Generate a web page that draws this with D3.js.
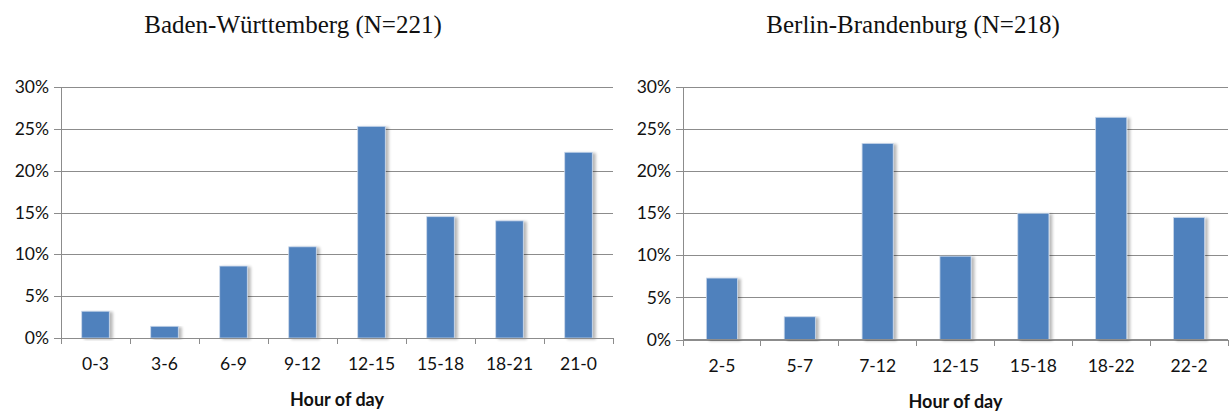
<!DOCTYPE html>
<html>
<head>
<meta charset="utf-8">
<script src="https://cdn.jsdelivr.net/npm/d3@7/dist/d3.min.js"></script>
<style>
  html, body { margin: 0; padding: 0; background: #fff; }
  svg { display: block; }
</style>
</head>
<body>
<svg id="chart" width="1229" height="411"></svg>
<script>
// Share of incidents by time of day, per region (percent)
const bwTitle = "Baden-Württemberg (N=221)";
const bwCategories = ["0-3", "3-6", "6-9", "9-12", "12-15", "15-18", "18-21", "21-0"];
const bwValues = [3.2, 1.4, 8.6, 10.9, 25.3, 14.5, 14.0, 22.2];

const bbTitle = "Berlin-Brandenburg (N=218)";
const bbCategories = ["2-5", "5-7", "7-12", "12-15", "15-18", "18-22", "22-2"];
const bbValues = [7.3, 2.7, 23.3, 9.9, 15.0, 26.4, 14.5];

const yTicks = [0, 5, 10, 15, 20, 25, 30];
const xAxisTitle = "Hour of day";

const svg = d3.select("#chart");
const sansFont = "Lato, 'Open Sans', sans-serif";

// soft drop shadow to the right of each bar
const defs = svg.append("defs");
const f = defs.append("filter").attr("id", "barShadow")
  .attr("x", "-20%").attr("y", "-5%").attr("width", "160%").attr("height", "115%");
f.append("feGaussianBlur").attr("in", "SourceAlpha").attr("stdDeviation", 1.6).attr("result", "b");
f.append("feOffset").attr("in", "b").attr("dx", 2.5).attr("dy", 1).attr("result", "o");
f.append("feComponentTransfer").attr("in", "o").attr("result", "s")
  .append("feFuncA").attr("type", "linear").attr("slope", 0.28);
const m = f.append("feMerge");
m.append("feMergeNode").attr("in", "s");
m.append("feMergeNode").attr("in", "SourceGraphic");

function drawPanel(opts) {
  const { title, categories, values, x0, x1, yTop, yBottom, titleX } = opts;
  const g = svg.append("g");

  const x = d3.scaleBand().domain(categories).range([x0, x1])
    .paddingInner(0.6).paddingOuter(0.3);
  const y = d3.scaleLinear().domain([0, 30]).range([yBottom, yTop]);

  // horizontal gridlines with short outward ticks
  const yAxis = d3.axisLeft(y).tickValues(yTicks)
    .tickSize(-(x1 - x0)).tickSizeOuter(0).tickPadding(12)
    .tickFormat(d => d + "%");
  const ya = g.append("g").attr("transform", `translate(${x0},0)`).call(yAxis);
  ya.select(".domain").remove();
  ya.selectAll(".tick line")
    .attr("x1", -7)
    .attr("stroke", "#8c8c8c").attr("stroke-width", 1)
    .attr("shape-rendering", "crispEdges");
  ya.selectAll(".tick text")
    .attr("font-family", sansFont)
    .attr("font-size", 17.5).attr("fill", "#111");

  // vertical axis line
  g.append("line")
    .attr("x1", x0).attr("x2", x0).attr("y1", yTop).attr("y2", yBottom)
    .attr("stroke", "#8c8c8c").attr("shape-rendering", "crispEdges");

  // bars
  g.append("g").selectAll("rect").data(values).join("rect")
    .attr("x", (d, i) => x(categories[i]))
    .attr("y", d => y(d))
    .attr("width", x.bandwidth())
    .attr("height", d => y(0) - y(d))
    .attr("fill", "#4f81bd")
    .attr("stroke", "#c9d7ea").attr("stroke-width", 0.8)
    .attr("filter", "url(#barShadow)");

  // category axis with tick marks at band boundaries
  const xa = g.append("g").attr("transform", `translate(0,${yBottom})`);
  xa.append("line")
    .attr("x1", x0).attr("x2", x1).attr("y1", 0).attr("y2", 0)
    .attr("stroke", "#8c8c8c").attr("shape-rendering", "crispEdges");
  const step = x.step();
  const bounds = d3.range(categories.length + 1).map(i => x0 + i * step);
  xa.selectAll(".bt").data(bounds).join("line")
    .attr("class", "bt")
    .attr("x1", d => d).attr("x2", d => d).attr("y1", 0).attr("y2", 6)
    .attr("stroke", "#8c8c8c").attr("shape-rendering", "crispEdges");
  xa.selectAll(".lbl").data(categories).join("text")
    .attr("class", "lbl")
    .attr("x", d => x(d) + x.bandwidth() / 2)
    .attr("y", 32)
    .attr("text-anchor", "middle")
    .attr("font-family", sansFont)
    .attr("font-size", 17.5).attr("fill", "#111")
    .text(d => d);

  // axis title
  g.append("text")
    .attr("x", (x0 + x1) / 2).attr("y", yBottom + 68)
    .attr("text-anchor", "middle")
    .attr("font-family", sansFont)
    .attr("font-weight", "bold")
    .attr("font-size", 18).attr("fill", "#111")
    .text(xAxisTitle);

  // panel title
  svg.append("text")
    .attr("x", titleX).attr("y", 33)
    .attr("text-anchor", "middle")
    .attr("font-family", "'Liberation Serif', 'Times New Roman', serif")
    .attr("font-size", 25).attr("fill", "#111")
    .text(title);
}

drawPanel({ title: bwTitle, categories: bwCategories, values: bwValues,
  x0: 61, x1: 613, yTop: 87, yBottom: 338, titleX: 293 });
drawPanel({ title: bbTitle, categories: bbCategories, values: bbValues,
  x0: 683, x1: 1228, yTop: 87, yBottom: 339.5, titleX: 913 });
</script>
</body>
</html>
